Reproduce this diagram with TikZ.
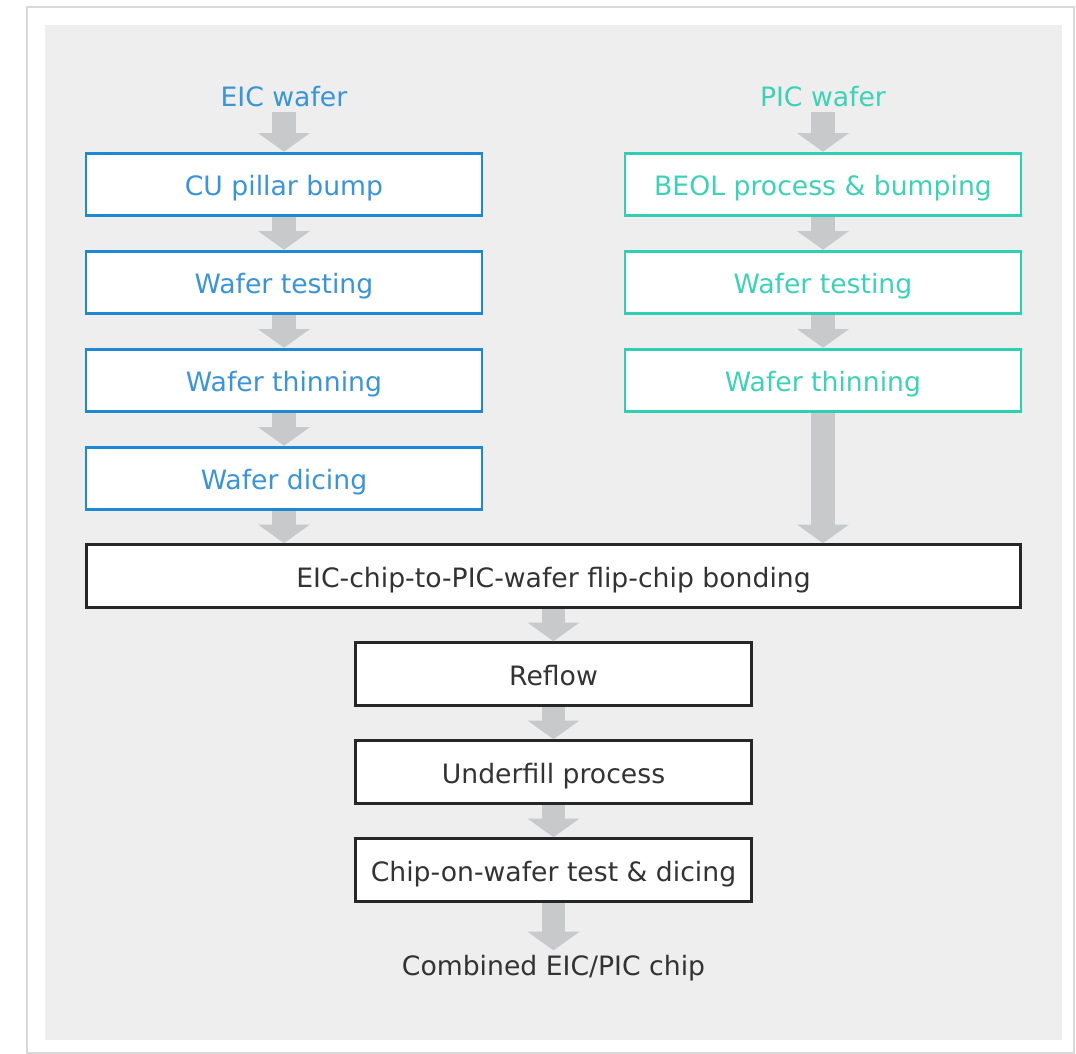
\documentclass[tikz,border=0pt]{standalone}
\usepackage{fontspec}
\setmainfont{DejaVu Sans}
\usetikzlibrary{arrows.meta}
\usepackage{xcolor}

\definecolor{eicblue}{HTML}{1F88D2}
\definecolor{eictext}{HTML}{3A94D8}
\definecolor{picteal}{HTML}{2ECFB3}
\definecolor{pictext}{HTML}{3DD2B6}
\definecolor{arrowgrey}{HTML}{C7C9CB}
\definecolor{panelgrey}{HTML}{EEEEEE}
\definecolor{framegrey}{HTML}{D9D9D9}
\definecolor{inkgrey}{HTML}{333333}

\tikzset{
    box/.style={draw, fill=white, line width=2.2pt, minimum width=297pt,
        minimum height=47pt, inner sep=0pt, text height=17pt, text depth=0pt,
        font=\fontsize{20}{22}\selectfont},
    eicbox/.style={box, draw=eicblue, text=eictext},
    picbox/.style={box, draw=picteal, text=pictext},
    stepbox/.style={box, draw=black!85, text=inkgrey},
    title/.style={font=\fontsize{20}{24}\selectfont},
    flow/.style={color=arrowgrey, line width=17.5pt,
        -{Triangle[width=39pt,length=14pt,line width=0pt,fill=arrowgrey]}}
}

\begin{document}
\begin{tikzpicture}[x=0.75pt,y=-0.75pt]
            \useasboundingbox (0,0) rectangle (1076,1054);
            \filldraw[fill=white, draw=framegrey, line width=1.2pt] (27,7) rectangle (1074,1053);
            \fill[panelgrey] (45,25) rectangle (1062,1040);

            \node[title, text=eictext](eict) at (284,97)  {EIC wafer};
            \node[title, text=pictext](pict) at (823,97)  {PIC wafer};

            \node[eicbox](e1) at (284,184.5) {CU pillar bump};
            \node[eicbox](e2) at (284,282.5) {Wafer testing};
            \node[eicbox](e3) at (284,380.5) {Wafer thinning};
            \node[eicbox](e4) at (284,478.5) {Wafer dicing};

            \node[picbox](p1) at (823,184.5) {BEOL process \& bumping};
            \node[picbox](p2) at (823,282.5) {Wafer testing};
            \node[picbox](p3) at (823,380.5) {Wafer thinning};

            \node[stepbox, minimum width=701pt](flip) at (553.5,576) {EIC-chip-to-PIC-wafer flip-chip bonding};
            \node[stepbox](reflow) at (553.5,674) {Reflow};
            \node[stepbox](under)  at (553.5,772) {Underfill process};
            \node[stepbox](cow)    at (553.5,870) {Chip-on-wafer test \& dicing};
            \node[title, text=inkgrey](chip) at (553.5,968) {Combined EIC/PIC chip};

            \path[flow]
                (eict) edge (e1)
                (e1) edge (e2)
                (e2) edge (e3)
                (e3) edge (e4)
                (e4) edge (e4 |- flip.north)
                (pict) edge (p1)
                (p1) edge (p2)
                (p2) edge (p3)
                (p3) edge (p3 |- flip.north)
                (flip) edge (reflow)
                (reflow) edge (under)
                (under) edge (cow)
                (cow) edge (chip)
                ;
        \end{tikzpicture}
\end{document}
